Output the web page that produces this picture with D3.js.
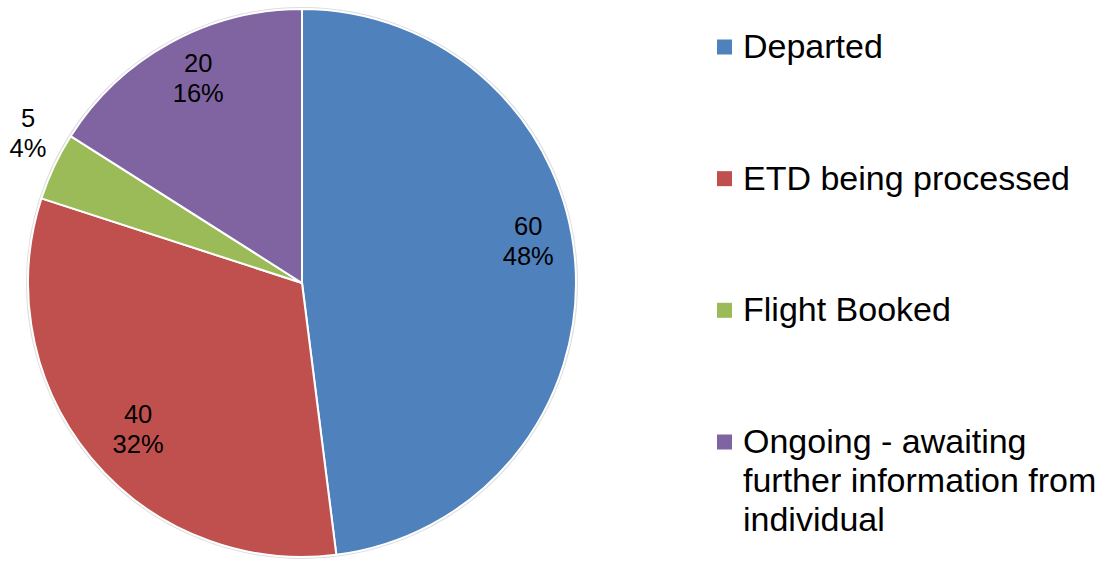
<!DOCTYPE html>
<html>
<head>
<meta charset="utf-8">
<script src="https://cdn.jsdelivr.net/npm/d3@7"></script>
<style>
  body { margin: 0; background: #fff; }
  text { font-family: "Liberation Sans", Arial, sans-serif; fill: #000; }
</style>
</head>
<body>
<svg id="chart" width="1115" height="561"></svg>
<script>
var categories = ["Departed", "ETD being processed", "Flight Booked", "Ongoing - awaiting further information from individual"];
var values = [60, 40, 5, 20];
var colors = ["#4F81BD", "#C0504D", "#9BBB59", "#8064A2"];

const svg = d3.select('#chart'),
    cx = 302, cy = 283, R = 274;

var total = d3.sum(values);
var data = categories.map((c, i) => ({ name: c, value: values[i], color: colors[i] }));

var pie = d3.pie().sort(null).value(d => d.value);
var arc = d3.arc().innerRadius(0).outerRadius(R);
var arcs = pie(data);

var g = svg.append('g').attr('transform', `translate(${cx},${cy})`);

// faint edge shadow
g.append('circle').attr('r', R + 1).attr('fill', 'none')
    .attr('stroke', '#ddd').attr('stroke-width', 2);

g.selectAll('path')
    .data(arcs)
    .enter().append('path')
    .attr('d', arc)
    .attr('fill', d => d.data.color)
    .attr('stroke', '#fff')
    .attr('stroke-width', 2)
    .attr('stroke-linejoin', 'round');

// label placement: small slices go outside, others inside (excel best fit-ish)
var labelTweak = [{ r: 0.84, da: -7 }, { r: 0.80, da: -2 }, { r: 1.14, da: 3.5 }, { r: 0.84, da: 2 }];
var fmt = d3.format('.0%');

var labels = g.selectAll('.lbl')
    .data(arcs)
    .enter().append('text')
    .attr('class', 'lbl')
    .attr('text-anchor', 'middle')
    .style('font-size', '25.5px')
    .attr('transform', (d, i) => {
        var a = (d.startAngle + d.endAngle) / 2 + labelTweak[i].da * Math.PI / 180;
        var rr = R * labelTweak[i].r;
        return `translate(${rr * Math.sin(a)},${-rr * Math.cos(a)})`;
    });
labels.append('tspan').attr('x', 0).attr('dy', '-0.22em').text(d => d.data.value);
labels.append('tspan').attr('x', 0).attr('dy', '1.18em').text(d => fmt(d.data.value / total));

// legend
var legendWrap = [["Departed"], ["ETD being processed"], ["Flight Booked"],
    ["Ongoing - awaiting", "further information from", "individual"]];
var legendY = d3.scaleLinear().domain([0, 3]).range([47, 442]);

var legend = svg.append('g').selectAll('g')
    .data(data)
    .enter().append('g')
    .attr('transform', (d, i) => `translate(717,${legendY(i)})`);

legend.append('rect')
    .attr('x', 0).attr('y', -7.5)
    .attr('width', 15).attr('height', 15)
    .attr('fill', d => d.color);

legend.append('text')
    .style('font-size', '34px')
    .attr('x', 26)
    .attr('y', 11)
    .each(function(d, i) {
        d3.select(this).selectAll('tspan')
            .data(legendWrap[i])
            .enter().append('tspan')
            .attr('x', 26)
            .attr('dy', (t, j) => j === 0 ? 0 : 39)
            .text(t => t);
    });
</script>
</body>
</html>
